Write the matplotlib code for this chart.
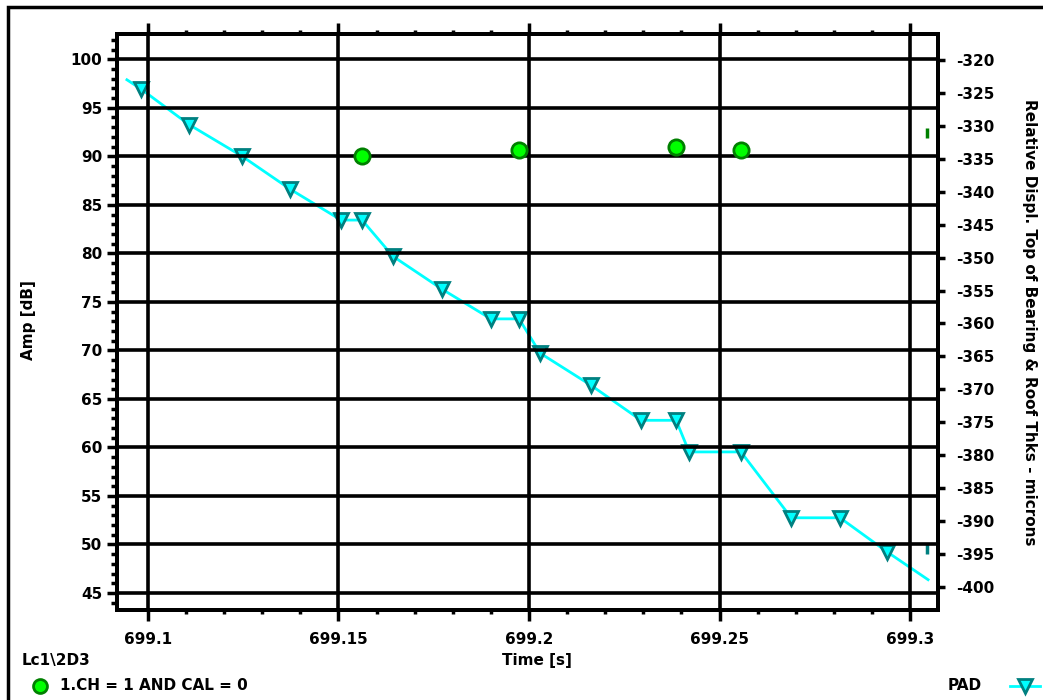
import matplotlib
matplotlib.use("Agg")
import matplotlib.pyplot as plt
from matplotlib.ticker import MultipleLocator, FormatStrFormatter
from matplotlib.patches import Rectangle

# PAD series (right axis, microns)
pad_t = [699.0945, 699.0982, 699.1108, 699.1247, 699.1373, 699.1507, 699.1562,
         699.1643, 699.1772, 699.1900, 699.1974, 699.2029, 699.2163, 699.2294,
         699.2386, 699.2420, 699.2556, 699.2688, 699.2816, 699.2940, 699.3047]
pad_v = [-323.0, -324.4, -329.8, -334.6, -339.6, -344.3, -344.3,
         -349.8, -354.8, -359.3, -359.3, -364.5, -369.4, -374.7,
         -374.7, -379.5, -379.5, -389.5, -389.5, -394.7, -398.9]
pad_mark = list(range(1, 20))  # points carrying a marker

# 1.CH = 1 AND CAL = 0 (left axis, dB)
ch_t = [699.1562, 699.1974, 699.2386, 699.2556]
ch_amp = [90.0, 90.6, 91.0, 90.6]

# small partial marks at the right edge
edge_t = 699.3045
edge_green = 92.4
edge_pad = -394.2

plt.rcParams['font.family'] = ['DejaVu Sans']
plt.rcParams['font.weight'] = 'bold'

fig = plt.figure(figsize=(10.43, 7.0), dpi=100)
ax = fig.add_axes([117/1043, 1-610/700, (938-117)/1043, (610-34)/700])
ax2 = ax.twinx()

ax.set_xlim(699.0919, 699.3073)
ax.set_ylim(43.25, 102.6)
ax2.set_ylim(-403.5, -316.05)

ax.xaxis.set_major_locator(MultipleLocator(0.05))
ax.xaxis.set_minor_locator(MultipleLocator(0.01))
ax.yaxis.set_major_locator(MultipleLocator(5))
ax.yaxis.set_minor_locator(MultipleLocator(1))
ax2.yaxis.set_major_locator(MultipleLocator(5))
ax.xaxis.set_major_formatter(FormatStrFormatter('%g'))
ax.yaxis.set_major_formatter(FormatStrFormatter('%d'))
ax2.yaxis.set_major_formatter(FormatStrFormatter('%d'))

ax.grid(True, which='major', color='black', linewidth=2.6)
ax.set_axisbelow(True)
ax.tick_params(axis='x', which='both', top=True, direction='out', width=2.5,
               labelsize=11, pad=8)
ax.tick_params(axis='x', which='major', length=8)
ax.tick_params(axis='x', which='minor', length=3)
ax.tick_params(axis='y', which='major', length=7, width=2.5, labelsize=11)
ax.tick_params(axis='y', which='minor', length=4, width=2.5)
ax2.tick_params(axis='y', which='major', length=5, width=2.5, labelsize=11, pad=8)
for a in (ax, ax2):
    for s in a.spines.values():
        s.set_linewidth(2.8)

# PAD line with markers
ax2.plot(pad_t, pad_v, color='#00ffff', linewidth=2, zorder=3)
ax2.plot([pad_t[i] for i in pad_mark], [pad_v[i] for i in pad_mark], linestyle='none',
         marker='v', markersize=10, markerfacecolor='#00ffff',
         markeredgecolor='#008080', markeredgewidth=2, zorder=4)
ax2.plot([edge_t], [edge_pad], linestyle='none', marker='|', markersize=7,
         color='#008080', markeredgewidth=2.5)

ax.plot(ch_t, ch_amp, linestyle='none', marker='o', markersize=11,
        markerfacecolor='#00ff00', markeredgecolor='#008000', markeredgewidth=2, zorder=5)
ax.plot([edge_t], [edge_green], linestyle='none', marker='|', markersize=7,
        color='#008000', markeredgewidth=2.5)

ax.set_zorder(ax2.get_zorder() + 1)
ax.patch.set_visible(False)

fig.text(28/1043, 1-320/700, 'Amp [dB]', rotation=90, ha='center', va='center', fontsize=11)
fig.text(1030/1043, 1-322/700, "Relative Displ. Top of Bearing & Roof Thks - microns",
         rotation=-90, ha='center', va='center', fontsize=11)
fig.text(537/1043, 1-660/700, 'Time [s]', ha='center', va='center', fontsize=11)
fig.text(22/1043, 1-660/700, 'Lc1\\2D3', ha='left', va='center', fontsize=11)

# legends
fig.lines.append(plt.Line2D([40/1043], [1-686/700], transform=fig.transFigure,
                            marker='o', markersize=10, markerfacecolor='#00ff00',
                            markeredgecolor='#008000', markeredgewidth=2, linestyle='none'))
fig.text(60/1043, 1-686/700, '1.CH = 1 AND CAL = 0', ha='left', va='center', fontsize=11)
fig.text(948/1043, 1-686/700, 'PAD', ha='left', va='center', fontsize=11)
fig.lines.append(plt.Line2D([1010/1043, 1040/1043], [1-686/700, 1-686/700],
                            transform=fig.transFigure, color='#00ffff', linewidth=2))
fig.lines.append(plt.Line2D([1025/1043], [1-686/700], transform=fig.transFigure,
                            marker='v', markersize=10, markerfacecolor='#00ffff',
                            markeredgecolor='#008080', markeredgewidth=2, linestyle='none'))

# outer frame
fig.patches.append(Rectangle((8/1043, -0.05), 1.1, 1-7/700+0.05, transform=fig.transFigure,
                             fill=False, edgecolor='black', linewidth=2.5))

fig.savefig('out.png', dpi=100)
